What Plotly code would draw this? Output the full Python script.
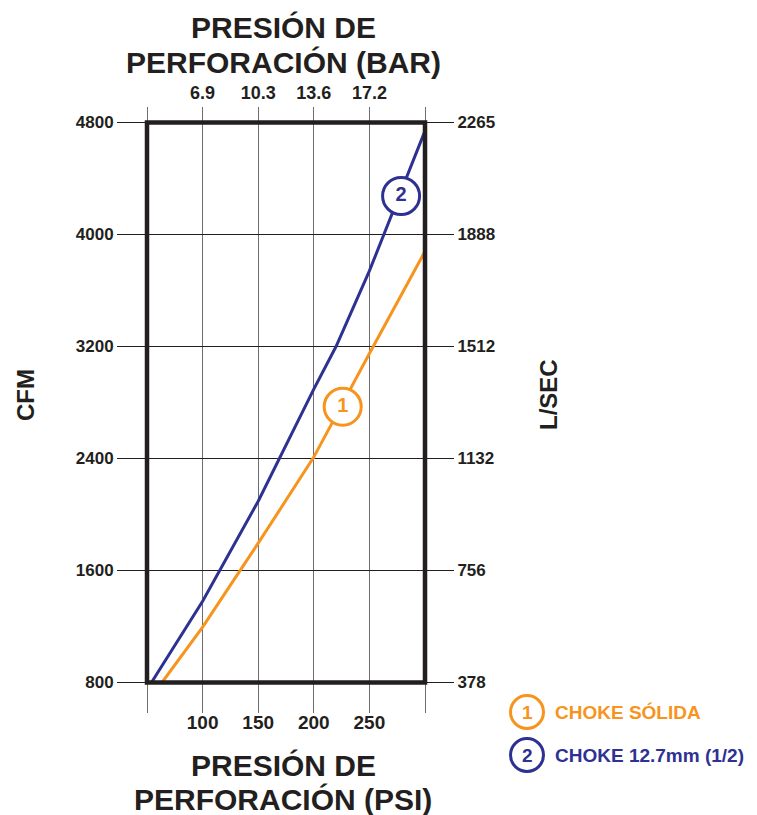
import numpy as np
import plotly.graph_objects as go

# ---------------- data ----------------
psi_ticks = [50, 100, 150, 200, 250, 300]
psi_labels = ["", "100", "150", "200", "250", ""]
bar_labels = ["", "6.9", "10.3", "13.6", "17.2", ""]
cfm_ticks = [800, 1600, 2400, 3200, 4000, 4800]
cfm_labels = ["800", "1600", "2400", "3200", "4000", "4800"]
lsec_labels = ["378", "756", "1132", "1512", "1888", "2265"]

choke_solid_psi = [63.5, 100, 150, 200, 250, 300]
choke_solid_cfm = [800, 1195, 1795, 2410, 3150, 3880]
choke_127_psi = [54, 100, 150, 200, 220, 250, 300]
choke_127_cfm = [800, 1380, 2095, 2895, 3200, 3740, 4740]

series_names = ["CHOKE SÓLIDA", "CHOKE 12.7mm (1/2)"]
series_ids = ["1", "2"]
badge_psi = [226, 278.5]
badge_cfm = [2770, 4275]

# ---------------- style ----------------
W, H = 757, 815
ORANGE = "#F7941D"
BLUE = "#2E3192"
BLACK = "#231F20"
GRID = "#6D6E71"
FONT = "Liberation Sans, Arial, sans-serif"

def px_x(p):
    return p / W

def px_y(p):
    return 1 - p / H

x0_px, x1_px = 147, 425
y0_px, y1_px = 682.5, 122.5

fig = go.Figure()

series = [
    (choke_solid_psi, choke_solid_cfm, ORANGE),
    (choke_127_psi, choke_127_cfm, BLUE),
]
for i, (xs, ys, col) in enumerate(series):
    fig.add_trace(go.Scatter(x=xs, y=ys, mode="lines", name=series_names[i],
                             line=dict(color=col, width=3), showlegend=False,
                             hoverinfo="skip"))
for i, (xs, ys, col) in enumerate(series):
    fig.add_trace(go.Scatter(x=[badge_psi[i]], y=[badge_cfm[i]], mode="markers+text",
                             text=[series_ids[i]], textposition="middle center",
                             textfont=dict(family=FONT, size=20, color=col, weight="bold"),
                             marker=dict(size=37, color="white", line=dict(color=col, width=3)),
                             showlegend=False, hoverinfo="skip", cliponaxis=False))

# dummy trace for secondary axes
fig.add_trace(go.Scatter(x=[None], y=[None], xaxis="x2", yaxis="y2",
                         showlegend=False, hoverinfo="skip"))

dom_x = [px_x(x0_px), px_x(x1_px)]
dom_y = [px_y(y0_px), px_y(y1_px)]

tickfont_lr = dict(family=FONT, size=17, color=BLACK, weight="bold")
tickfont_tb = dict(family=FONT, size=19, color=BLACK, weight="bold")

fig.update_layout(
    width=W, height=H, showlegend=False,
    margin=dict(l=0, r=0, t=0, b=0, pad=0, autoexpand=False),
    paper_bgcolor="white", plot_bgcolor="white",
    xaxis=dict(domain=dom_x, range=[50, 300], tickvals=psi_ticks, ticktext=psi_labels,
               showgrid=True, gridcolor=GRID, gridwidth=1.3, zeroline=False, showline=False,
               ticks="outside", ticklen=29, tickcolor=GRID, tickwidth=1.3, automargin=False,
               ticklabelstandoff=-6,
               tickfont=tickfont_tb, anchor="y", fixedrange=True),
    xaxis2=dict(range=[50, 300], overlaying="x", side="top", anchor="y", automargin=False,
                tickvals=psi_ticks, ticktext=bar_labels, showgrid=False, zeroline=False,
                showline=False, ticks="outside", ticklen=15, tickcolor=GRID, tickwidth=1.3,
                tickfont=dict(family=FONT, size=18, color=BLACK, weight="bold")),
    yaxis=dict(domain=dom_y, range=[800, 4800], tickvals=cfm_ticks, ticktext=cfm_labels,
               showgrid=True, gridcolor=BLACK, gridwidth=1, zeroline=False, showline=False,
               ticks="outside", ticklen=29, tickcolor=BLACK, tickwidth=1, automargin=False,
               tickfont=tickfont_lr, anchor="x"),
    yaxis2=dict(range=[800, 4800], overlaying="y", side="right", anchor="x", automargin=False,
                tickvals=cfm_ticks, ticktext=lsec_labels, showgrid=False, zeroline=False,
                showline=False, ticks="outside", ticklen=28, tickcolor=BLACK, tickwidth=1,
                tickfont=tickfont_lr),
)

# frame
fig.add_shape(type="rect", xref="x domain", yref="y domain", x0=0, x1=1, y0=0, y1=1,
              line=dict(color=BLACK, width=4.5), layer="above")

annos = []
def txt(text, x, y, size, color=BLACK, xanchor="center", angle=0):
    annos.append(dict(text=text, x=px_x(x), y=px_y(y), xref="paper", yref="paper",
                      showarrow=False, xanchor=xanchor, yanchor="middle", textangle=angle,
                      font=dict(family=FONT, size=size, color=color, weight="bold")))

txt("PRESIÓN DE", 283, 27, 30)
txt("PERFORACIÓN (BAR)", 283, 62, 30)
txt("PRESIÓN DE", 283, 765, 30)
txt("PERFORACIÓN (PSI)", 283, 799, 30)
txt("CFM", 25, 395, 24, angle=-90)
txt("L/SEC", 548, 395, 24, angle=-90)

legend_cols = [ORANGE, BLUE]
legend_y = [712, 755]
for i in range(2):
    fig.add_shape(type="circle", xref="paper", yref="paper",
                  xsizemode="pixel", ysizemode="pixel",
                  xanchor=px_x(527), yanchor=px_y(legend_y[i]),
                  x0=-16.5, x1=16.5, y0=-16.5, y1=16.5,
                  line=dict(color=legend_cols[i], width=3))
    txt(series_ids[i], 527, legend_y[i], 19, color=legend_cols[i])
    txt(series_names[i], 553, legend_y[i], 19, color=legend_cols[i], xanchor="left")

fig.update_layout(annotations=annos)

post = (
    "document.documentElement.style.margin='0';"
    "document.body.style.margin='0';"
    "document.documentElement.style.overflow='hidden';"
    "document.body.style.overflow='hidden';"
    "var gd=document.getElementById('{plot_id}');"
    "gd.style.position='fixed';gd.style.left='0px';gd.style.top='0px';"
)

fig.write_html("out.html", config={"displayModeBar": False}, post_script=post)
